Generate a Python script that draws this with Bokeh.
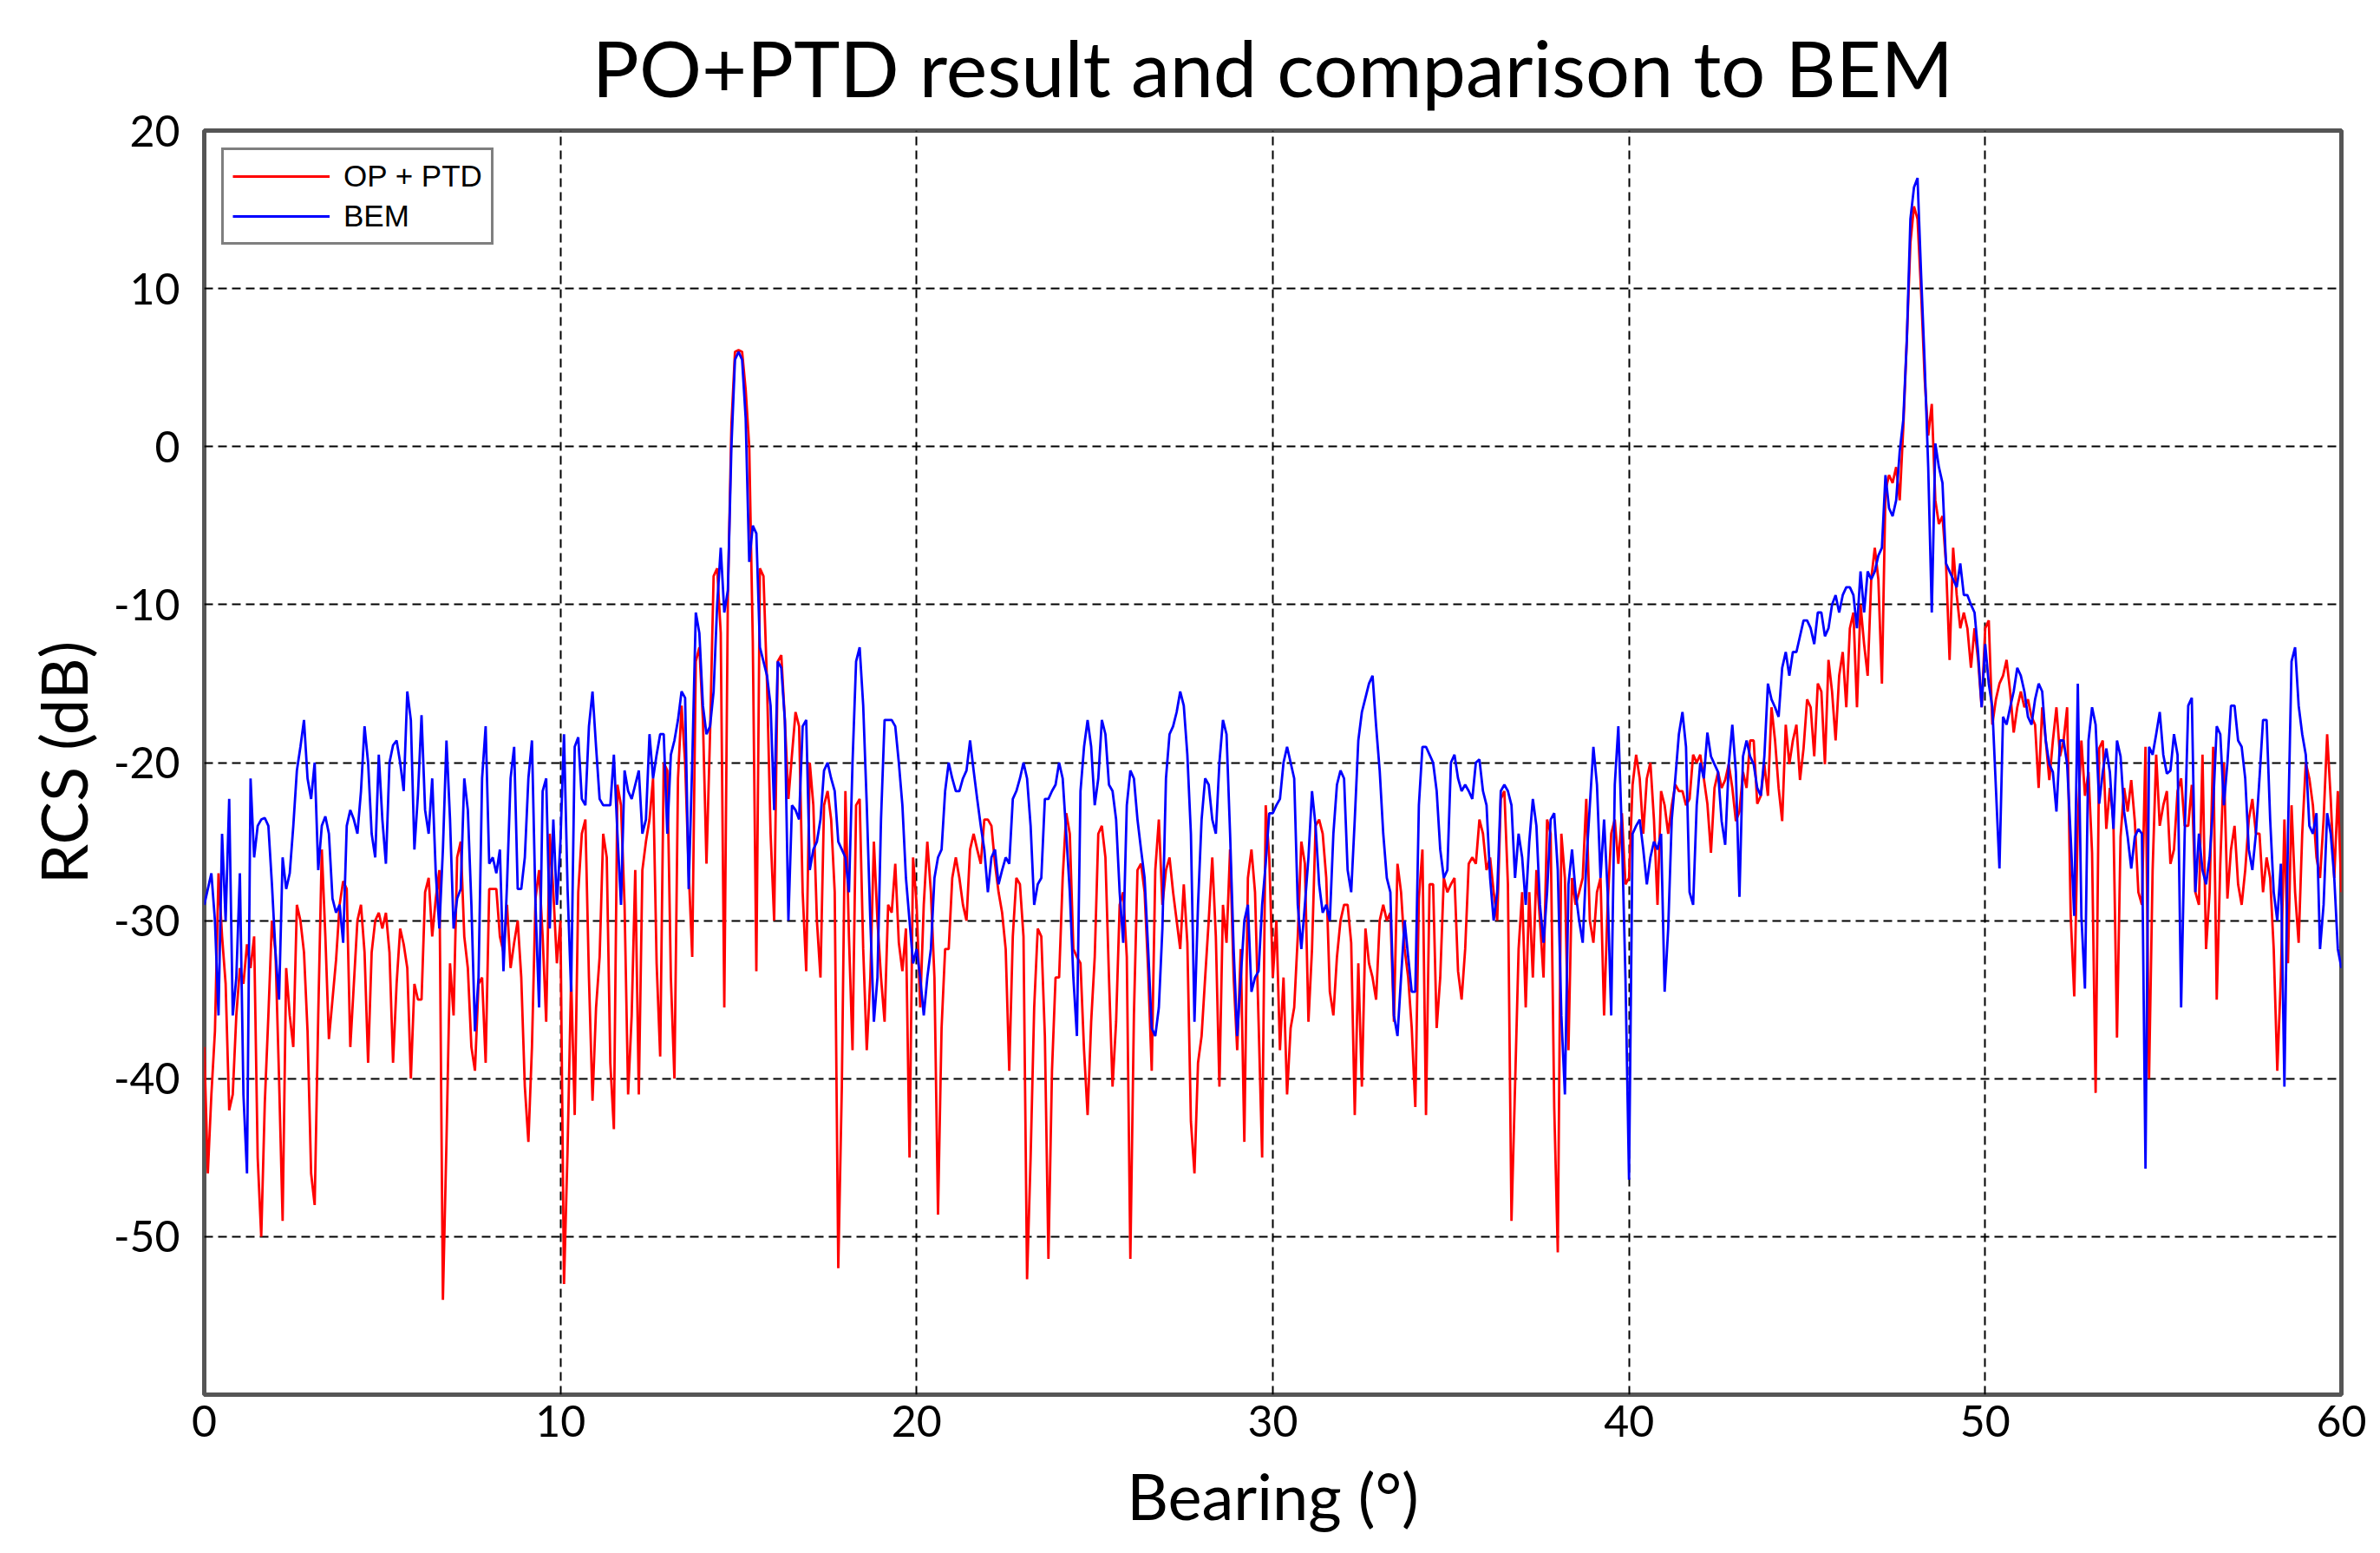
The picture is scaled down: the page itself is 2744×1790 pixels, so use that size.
from bokeh.plotting import figure
from bokeh.models import FixedTicker, Range1d, Legend, LegendItem
from bokeh.embed import file_html
from bokeh.resources import INLINE

TITLE = "PO+PTD result and comparison to BEM"
X_LABEL = "Bearing (°)"
Y_LABEL = "RCS (dB)"
X_TICKS = [0, 10, 20, 30, 40, 50, 60]
X_TICK_LABELS = ["0", "10", "20", "30", "40", "50", "60"]
Y_TICKS = [20, 10, 0, -10, -20, -30, -40, -50]
Y_TICK_LABELS = ["20", "10", "0", "-10", "-20", "-30", "-40", "-50"]
X_GRID = [10, 20, 30, 40, 50]
Y_GRID = [10, 0, -10, -20, -30, -40, -50]
SERIES_NAMES = ["OP + PTD", "BEM"]
STEP_DEG = 0.1  # bearing sampling step of the values below

# ---- OP + PTD (red), one row per degree, 0.1 deg apart ----
po_ptd_00_10 = [
    -38, -46, -41, -37, -27, -31, -34, -42, -41, -36,
    -33, -34, -31.5, -33, -31, -45, -50, -41.5, -36, -30,
    -32, -40, -49, -33, -36, -38, -29, -30, -32, -37,
    -46, -48, -36, -25.5, -31, -37.5, -35, -32.5, -29, -27.5,
    -28, -38, -34, -30, -29, -32, -39, -32, -30, -29.5,
    -30.5, -29.5, -32, -39, -34, -30.5, -31.5, -33, -40, -34,
    -35, -35, -28.2, -27.3, -31, -28.6, -26.8, -54, -44, -32.7,
    -36, -26, -25, -31, -33, -38, -39.5, -34, -33.6, -39,
    -28, -28, -28, -31, -32, -29, -33, -31.4, -30, -33.6,
    -40.5, -44, -38, -28.6, -26.8, -31, -36.4, -24.5, -28.2, -32.7,
]
po_ptd_10_20 = [
    -30, -53, -44.5, -33.6, -42.3, -28.2, -24.5, -23.6, -33.6, -41.4,
    -35.5, -32.3, -24.5, -26, -39, -43.2, -21.4, -22.7, -29, -41,
    -36, -26.8, -41, -26.8, -25, -23.6, -21, -32.7, -38.6, -20,
    -20.5, -33.6, -40, -21, -16.4, -20, -26.8, -32.3, -13.6, -12.7,
    -17.3, -26.4, -18.2, -8.2, -7.7, -11.8, -35.5, -9.5, 1.4, 6,
    6.1, 6, 3.6, 0, -12.3, -33.2, -7.7, -8.2, -15, -24.5,
    -30, -13.6, -13.2, -17.3, -22.3, -19.5, -16.8, -17.7, -28.2, -33.2,
    -20, -22.7, -30, -33.6, -22.7, -21.8, -23.6, -28.2, -52, -40.5,
    -21.8, -31, -38.2, -22.7, -22.3, -31.8, -38.2, -33.6, -25, -30,
    -33.6, -36.4, -29, -29.5, -26.4, -31.4, -33.2, -30.5, -45, -26,
]
po_ptd_20_30 = [
    -29, -35.5, -29, -25, -28.2, -33.6, -48.6, -36.8, -31.8, -31.8,
    -27.3, -26, -27.3, -29, -30, -25.5, -24.5, -25.5, -26.4, -23.6,
    -23.6, -24, -26.4, -28.2, -29.5, -31.8, -39.5, -31, -27.3, -27.7,
    -31, -52.7, -45, -35.5, -30.5, -31, -37.3, -51.4, -39.5, -33.6,
    -33.6, -27.3, -23.2, -24.5, -31.8, -32.3, -32.7, -38.2, -42.3, -36.4,
    -32.3, -24.5, -24, -26, -33.6, -40.5, -36.4, -29, -28.2, -32.3,
    -51.4, -36, -26.8, -26.4, -28.2, -33.2, -39.5, -26.8, -23.6, -29,
    -26.8, -26, -28.2, -30, -31.8, -27.7, -31.4, -42.7, -46, -39,
    -37.3, -33.6, -30, -26, -31, -40.5, -29, -31.4, -25.5, -33.6,
    -38.2, -31.8, -44, -27.3, -25.5, -28.2, -36.4, -45, -22.7, -26,
]
po_ptd_30_40 = [
    -33.6, -30, -38.2, -33.6, -41, -36.8, -35.5, -31, -25, -26.4,
    -36.4, -31.8, -24, -23.6, -24.5, -27.3, -34.5, -36, -32.3, -30,
    -29, -29, -31.4, -42.3, -32.7, -40.5, -30.5, -32.7, -33.6, -35,
    -30, -29, -30, -29.5, -36.4, -26.4, -28.2, -31.8, -33.6, -36.8,
    -41.8, -28.6, -25.5, -42.3, -27.7, -27.7, -36.8, -33.6, -27.3, -28.2,
    -27.7, -27.3, -33.2, -35, -31.8, -26.4, -26, -26.4, -23.6, -24.5,
    -26.8, -26, -28.2, -30, -22.3, -21.8, -27.7, -49, -40.5, -31.8,
    -28.2, -35.5, -28.2, -33.6, -26.8, -30, -33.6, -23.6, -24.5, -41.8,
    -51, -24.5, -27.3, -38.2, -27.3, -29, -28.2, -27.3, -22.3, -30,
    -31.4, -28.2, -27.3, -36, -29, -24.5, -23.6, -26.4, -23.2, -27.7,
]
po_ptd_40_50 = [
    -27.3, -21.4, -19.5, -21, -24.5, -21, -20, -23.6, -29, -21.8,
    -22.7, -24.5, -22.7, -21.4, -21.8, -21.8, -22.7, -22.3, -19.5, -20,
    -19.5, -21, -22.6, -25.7, -21.6, -20.6, -21.6, -21.1, -20.1, -21.6,
    -23.7, -23.1, -20.6, -21.6, -18.6, -18.6, -22.6, -22.1, -20.1, -22.1,
    -16.5, -18.6, -21.6, -23.7, -17.6, -20.1, -18.6, -17.6, -21.1, -19.1,
    -16, -16.5, -19.6, -15, -15.5, -20.1, -13.5, -15.5, -18.6, -14.5,
    -13, -16.5, -11.5, -10.5, -16.5, -10, -12.5, -14.5, -8.4, -6.4,
    -8.4, -15, -2.8, -1.8, -2.3, -1.3, -3.4, 1.2, 6.8, 12.9,
    15.2, 14.4, 9.8, 4.3, 0.7, 2.7, -3.4, -4.9, -4.4, -7.4,
    -13.5, -6.4, -9.4, -11.5, -10.5, -11.5, -14, -11.5, -13.5, -16.5,
]
po_ptd_50_60 = [
    -11.5, -11, -17.6, -16, -15, -14.5, -13.5, -15.5, -18.1, -16.5,
    -15.5, -16.5, -16, -17.1, -17.6, -21.6, -16.5, -18.6, -21.1, -18.6,
    -16.5, -19.6, -18.6, -16.5, -29.7, -34.8, -23.7, -18.6, -22.1, -20.6,
    -25.7, -40.9, -19.1, -18.6, -24.2, -21.6, -23.7, -37.4, -24.7, -21.6,
    -23.1, -21.1, -23.7, -28.2, -29, -19, -40, -26.8, -19.5, -24,
    -22.7, -21.8, -26.4, -25.5, -21.8, -21, -24, -24, -21.4, -28.2,
    -29, -19.5, -31.8, -28.2, -19, -35, -26.4, -20, -28.6, -25.5,
    -24, -27.7, -29, -26.8, -23.6, -22.3, -24.5, -24.5, -28.2, -26,
    -27.3, -31.8, -39.5, -33.6, -23.6, -32.7, -22.7, -28.2, -31.4, -24.5,
    -20, -21, -22.7, -26, -27.3, -23.6, -18.2, -22.3, -27.3, -21.8,
    -28.2,
]

# ---- BEM (blue) ----
bem_00_10 = [
    -29, -28, -27, -30, -36, -24.5, -30, -22.3, -36, -33.6,
    -27, -41, -46, -21, -26, -24, -23.6, -23.5, -24, -27.7,
    -32, -35, -26, -28, -27, -24, -20.5, -19, -17.3, -21,
    -22.3, -20, -26.8, -24, -23.4, -24.5, -28.6, -29.5, -29, -31.4,
    -24, -23, -23.6, -24.5, -21.8, -17.7, -20, -24.5, -26, -19.5,
    -23.6, -26.4, -20, -18.9, -18.6, -20, -21.8, -15.5, -17.3, -25.5,
    -22, -17, -23, -24.5, -21, -27, -30.5, -25.5, -18.6, -23.6,
    -30.5, -28.6, -28, -21, -23, -29, -37, -33.6, -21, -17.7,
    -26.4, -26, -27, -25.5, -33.2, -27.7, -21, -19, -28, -28,
    -26, -21, -18.6, -29, -35.5, -21.8, -21, -30.5, -23.6, -29,
]
bem_10_20 = [
    -25, -18.2, -28, -34.5, -19, -18.4, -22.3, -22.7, -17.7, -15.5,
    -19, -22.3, -22.7, -22.7, -22.7, -19.5, -24.5, -29, -20.5, -21.8,
    -22.3, -21.4, -20.5, -24.5, -23.6, -18.2, -21, -19.5, -18.2, -18.2,
    -24.5, -19.5, -18.6, -17.3, -15.5, -15.9, -28, -20, -10.5, -11.8,
    -16.4, -18.2, -17.7, -15.5, -10, -6.4, -10.5, -9.1, 0, 5.5,
    6, 5.5, 1.8, -7.3, -5, -5.5, -12.7, -13.6, -14.5, -16.4,
    -23, -13.6, -14, -17.3, -30, -22.7, -23, -23.6, -17.7, -17.3,
    -26.8, -25.5, -25, -23.6, -20.5, -20, -21, -21.8, -25, -25.5,
    -26, -28.2, -20, -13.6, -12.7, -16.4, -22.7, -30, -36.4, -33.6,
    -23.6, -17.3, -17.3, -17.3, -17.7, -20, -22.7, -27.3, -30, -32.7,
]
bem_20_30 = [
    -31.8, -33.6, -36, -33.6, -31.8, -27.3, -26, -25.5, -21.8, -20,
    -21, -21.8, -21.8, -21, -20.5, -18.6, -20.5, -22.3, -24, -25.5,
    -28.2, -26, -25.5, -27.7, -26.8, -26, -26.4, -22.3, -21.8, -21,
    -20, -21, -24, -29, -27.7, -27.3, -22.3, -22.3, -21.8, -21.4,
    -20, -21, -24.5, -28.2, -33.6, -37.3, -21.8, -19, -17.3, -19,
    -22.7, -21, -17.3, -18.2, -21.4, -21.8, -23.6, -28.2, -31.4, -22.7,
    -20.5, -21, -23.6, -25.5, -27.3, -31.8, -36.8, -37.3, -35.5, -30.5,
    -21, -18.2, -17.7, -16.8, -15.5, -16.4, -19.5, -24.5, -36.4, -29,
    -23.6, -21, -21.4, -23.6, -24.5, -20, -17.3, -18.2, -24.5, -31.8,
    -37.3, -33.6, -30, -29, -34.5, -33.6, -33.2, -29, -26.4, -23.2,
]
bem_30_40 = [
    -23.2, -22.7, -22.3, -20, -19, -20, -21, -29, -31.8, -29,
    -26, -21.8, -24, -27.7, -29.5, -29, -30, -24.5, -21.4, -20.5,
    -21, -26.8, -28.2, -23.6, -18.6, -16.8, -15.9, -15, -14.5, -17.7,
    -20.5, -24.5, -27.3, -28.2, -36, -37.3, -33.6, -30, -32.3, -34.5,
    -34.5, -22.7, -19, -19, -19.5, -20, -21.8, -25.5, -27.3, -26.8,
    -20, -19.5, -21, -21.8, -21.4, -21.8, -22.3, -20, -19.8, -21.8,
    -22.7, -27.3, -30, -28.2, -21.8, -21.4, -21.8, -22.7, -27.3, -24.5,
    -26, -29, -25, -22.3, -24, -29, -31.4, -28.2, -23.6, -23.2,
    -26.8, -36, -41, -27.7, -25.5, -28.2, -30, -31.4, -26.4, -22.7,
    -19, -21.4, -27.3, -23.6, -28.2, -36, -21.4, -17.7, -24.5, -33.6,
]
bem_40_50 = [
    -46.4, -24.5, -24, -23.6, -25.5, -27.7, -26, -25, -25.5, -24.5,
    -34.5, -30.5, -23.6, -21, -18.2, -16.8, -19, -28.2, -29, -22.7,
    -20, -21, -18.1, -19.6, -20.1, -20.6, -23.7, -25.2, -20.1, -17.6,
    -20.6, -28.5, -19.6, -18.6, -19.6, -20.1, -21.6, -22.1, -19.6, -15,
    -16, -16.5, -17.1, -14, -13, -14.5, -13, -13, -12, -11,
    -11, -11.5, -12.5, -10.5, -10.5, -12, -11.5, -10, -9.4, -10.5,
    -9.4, -8.9, -8.9, -9.4, -11.5, -7.9, -10.5, -7.9, -8.4, -7.9,
    -6.9, -6.4, -1.8, -3.9, -4.4, -3.4, -0.3, 1.7, 6.8, 14.4,
    16.4, 17.0, 10.9, 5.3, -1.3, -10.5, 0.2, -1.3, -2.3, -7.4,
    -7.9, -8.4, -8.9, -7.4, -9.4, -9.4, -10, -10.5, -13, -16.5,
]
bem_50_60 = [
    -12.5, -15, -16.5, -21.6, -26.7, -17.1, -17.6, -16.5, -15.5, -14,
    -14.5, -15.5, -17.1, -17.6, -16, -15, -15.5, -18.6, -20.1, -20.6,
    -23.1, -18.6, -18.6, -20.1, -24.7, -29.7, -15, -29.7, -34.3, -18.6,
    -16.5, -17.6, -22.6, -20.6, -19.1, -20.6, -24.2, -18.6, -19.6, -23.1,
    -24.7, -26.7, -24.7, -24.2, -24.5, -45.7, -19, -19.5, -18.2, -16.8,
    -19.5, -20.7, -20.5, -18.2, -19.5, -35.5, -24.5, -16.4, -15.9, -28.2,
    -24.5, -26.8, -27.7, -26, -22.7, -17.7, -18.2, -22.7, -20, -16.4,
    -16.4, -18.6, -19, -21, -25.5, -26.8, -24.5, -21, -17.3, -17.3,
    -23.6, -28.2, -30, -26.4, -40.5, -24.5, -13.6, -12.7, -16.4, -18.2,
    -19.5, -24, -24.5, -23.2, -31.8, -29, -23.2, -24.5, -27.3, -31.8,
    -33,
]

rcs_po_ptd = po_ptd_00_10 + po_ptd_10_20 + po_ptd_20_30 + po_ptd_30_40 + po_ptd_40_50 + po_ptd_50_60
rcs_bem = bem_00_10 + bem_10_20 + bem_20_30 + bem_30_40 + bem_40_50 + bem_50_60
bearing_red = [round(i * STEP_DEG, 1) for i in range(len(rcs_po_ptd))]
bearing_blue = [round(i * STEP_DEG, 1) for i in range(len(rcs_bem))]

FONT = "Lato"

p = figure(
    width=2728, height=1774,
    x_range=Range1d(0, 60), y_range=Range1d(-60, 20),
    output_backend="svg", toolbar_location=None,
    min_border_left=235, min_border_right=29, min_border_top=150, min_border_bottom=167,
    background_fill_color="white", border_fill_color="white",
)

p.title.text = TITLE
p.title.align = "center"
p.title.text_font = FONT
p.title.text_font_size = "90px"
p.title.text_font_style = "normal"
p.title.text_color = "black"
p.title.standoff = 39

p.xaxis.axis_label = X_LABEL
p.yaxis.axis_label = Y_LABEL
p.xaxis.ticker = FixedTicker(ticks=X_TICKS)
p.yaxis.ticker = FixedTicker(ticks=Y_TICKS)
p.xaxis.major_label_overrides = dict(zip(X_TICKS, X_TICK_LABELS))
p.yaxis.major_label_overrides = dict(zip(Y_TICKS, Y_TICK_LABELS))

for ax in (p.xaxis, p.yaxis):
    ax.axis_line_color = None
    ax.major_tick_line_color = None
    ax.minor_tick_line_color = None
    ax.major_label_text_font = FONT
    ax.major_label_text_font_size = "50px"
    ax.major_label_text_color = "black"
    ax.axis_label_text_font = FONT
    ax.axis_label_text_font_size = "74px"
    ax.axis_label_text_font_style = "normal"
    ax.axis_label_text_color = "black"

p.xaxis.major_label_standoff = 6
p.xaxis.axis_label_standoff = 20
p.yaxis.major_label_standoff = 22
p.yaxis.axis_label_standoff = 11

p.xgrid.ticker = FixedTicker(ticks=X_GRID)
p.ygrid.ticker = FixedTicker(ticks=Y_GRID)
for g in (p.xgrid, p.ygrid):
    g.grid_line_color = "black"
    g.grid_line_width = 2
    g.grid_line_dash = "10 6"
    g.grid_line_alpha = 1.0

p.outline_line_color = "#555555"
p.outline_line_width = 5

r_red = p.line(bearing_red, rcs_po_ptd, line_color="#ff0000", line_width=2.8)
r_blue = p.line(bearing_blue, rcs_bem, line_color="#0000ff", line_width=2.8)

legend = Legend(
    items=[LegendItem(label=SERIES_NAMES[0], renderers=[r_red]),
           LegendItem(label=SERIES_NAMES[1], renderers=[r_blue])],
    location="top_left",
    margin=20,
    padding=10,
    spacing=6,
    glyph_width=112,
    glyph_height=34,
    label_height=34,
    label_standoff=16,
    label_text_font="Liberation Sans",
    label_text_font_size="35px",
    label_text_color="black",
    border_line_color="black",
    border_line_width=3,
    background_fill_color="white",
    background_fill_alpha=1.0,
)
p.add_layout(legend)

open("out.html", "w").write(file_html(p, INLINE))
